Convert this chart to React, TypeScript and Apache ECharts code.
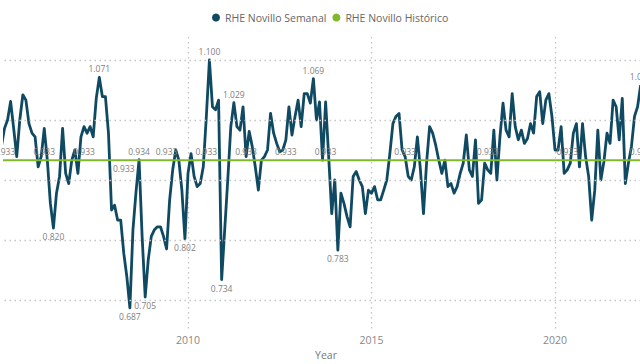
import React, { useEffect, useRef } from "react";
import * as echarts from "echarts";

// Monthly series starting Nov 2004
const startYear = 2004;
const startMonth = 11;

const semanal: number[] = [
  0.967, 0.956, 0.986, 1.000, 1.031, 0.986, 0.939, 1.000, 1.042, 1.033,
  0.994, 0.978, 0.972, 0.922, 0.939, 0.986, 0.933, 0.861, 0.820, 0.878,
  0.906, 0.986, 0.911, 0.894, 0.933, 0.950, 0.911, 0.972, 0.989, 0.978,
  0.989, 0.972, 1.036, 1.071, 1.039, 1.039, 0.978, 0.850, 0.858, 0.833,
  0.833, 0.778, 0.739, 0.687, 0.817, 0.880, 0.934, 0.806, 0.705, 0.767,
  0.806, 0.817, 0.822, 0.822, 0.806, 0.785, 0.867, 0.917, 0.950, 0.933,
  0.883, 0.802, 0.911, 0.944, 0.906, 0.889, 0.894, 0.922, 1.006, 1.100,
  1.022, 1.017, 1.033, 0.734, 0.817, 0.900, 0.989, 1.029, 0.989, 0.983,
  1.022, 0.939, 0.981, 0.956, 0.922, 0.883, 0.933, 0.939, 0.950, 1.011,
  0.978, 0.961, 0.947, 0.950, 0.967, 1.022, 0.975, 1.006, 1.033, 0.989,
  1.044, 1.044, 1.028, 1.069, 1.000, 1.030, 0.933, 1.030, 0.939, 0.844,
  0.900, 0.783, 0.878, 0.861, 0.839, 0.822, 0.906, 0.914, 0.900, 0.889,
  0.844, 0.883, 0.878, 0.889, 0.867, 0.867, 0.883, 0.900, 0.944, 0.994,
  1.006, 1.011, 0.950, 0.939, 0.906, 0.900, 0.922, 0.972, 0.917, 0.844,
  0.928, 0.989, 0.978, 0.958, 0.933, 0.911, 0.933, 0.889, 0.894, 0.878,
  0.889, 0.911, 0.928, 0.975, 0.917, 0.906, 0.967, 0.861, 0.867, 0.928,
  0.917, 0.911, 0.983, 0.900, 0.972, 1.028, 0.983, 0.972, 1.044, 0.989,
  0.967, 0.983, 0.961, 0.969, 0.994, 0.978, 1.039, 1.047, 0.994, 1.033,
  1.044, 1.006, 0.950, 0.950, 0.989, 0.911, 0.917, 0.928, 0.978, 0.994,
  0.922, 0.994, 0.939, 0.906, 0.833, 0.883, 0.983, 0.900, 0.931, 0.978,
  0.961, 1.033, 1.022, 0.967, 1.036, 0.894, 0.928, 0.956, 1.006, 1.022,
  1.058,
];

const historico = 0.933;

// indices of labelled points
const peakLabels = [33, 46, 69, 77, 103, 210];
const troughLabels = [18, 43, 48, 61, 73, 111];
const histLabelsTop = [2, 15, 28, 55, 68, 81, 94, 107, 133, 160, 186, 210];
const histLabelsBottom = [41];

const yGridValues = [0.7, 0.8, 0.9, 1.0, 1.1];
const yearTicks = [2010, 2015, 2020];

const dates: string[] = semanal.map((_, i) => {
  const m = startMonth - 1 + i;
  return `${startYear + Math.floor(m / 12)}-${String((m % 12) + 1).padStart(2, "0")}`;
});
const toYear = (d: string) => {
  const [y, m] = d.split("-").map(Number);
  return y + (m - 1) / 12;
};

const DARK = "#0f4a62";
const GREEN = "#80ba2c";
const FONT = "Open Sans";
const GRID_LINE = { color: "#c4c4c4", type: [1.5, 3.5], width: 1.3 };
const LABEL = {
  color: "#808080",
  fontSize: 8.5,
  fontFamily: FONT,
  distance: 4,
  formatter: (p: any) => Number(p.value[1]).toFixed(3),
};

export default function App() {
  const ref = useRef<HTMLDivElement>(null);
  useEffect(() => {
    if (!ref.current) return;
    const chart = echarts.init(ref.current, undefined, { renderer: "svg" });
    const semData = semanal.map((v, i) => {
      const x = toYear(dates[i]);
      if (peakLabels.includes(i))
        return { value: [x, v], label: { show: true, position: "top", ...LABEL } };
      if (troughLabels.includes(i))
        return { value: [x, v], label: { show: true, position: "bottom", ...LABEL } };
      return { value: [x, v] };
    });
    const histData = dates.map((d, i) => {
      const x = toYear(d);
      if (histLabelsTop.includes(i))
        return { value: [x, historico], label: { show: true, position: "top", ...LABEL } };
      if (histLabelsBottom.includes(i))
        return { value: [x, historico], label: { show: true, position: "bottom", ...LABEL } };
      return { value: [x, historico] };
    });
    chart.setOption({
      animation: false,
      legend: {
        data: ["RHE Novillo Semanal", "RHE Novillo Histórico"],
        left: 207,
        top: 7,
        icon: "circle",
        itemWidth: 8,
        itemHeight: 8,
        itemGap: 6,
        textStyle: { color: "#666", fontSize: 10.5, fontFamily: FONT },
      },
      grid: { left: 4.5, right: -98.5, top: 37, bottom: 34, outerBoundsMode: "none" },
      xAxis: {
        type: "value",
        min: 2005,
        max: 2025,
        interval: 5,
        name: "Year",
        nameLocation: "middle",
        nameGap: 18,
        nameTextStyle: { color: "#777", fontSize: 10.5, fontFamily: FONT, padding: [0, 91, 0, 0] },
        axisLine: { show: false },
        axisTick: { show: false },
        axisLabel: {
          color: "#888",
          fontSize: 10.5,
          fontFamily: FONT,
          margin: 4,
          formatter: (v: number) => (yearTicks.includes(v) ? String(v) : ""),
        },
        splitLine: {
          show: true,
          showMinLine: false,
          lineStyle: GRID_LINE,
        },
      },
      yAxis: {
        type: "value",
        min: 0.65,
        max: 1.1383,
        axisLabel: { show: false },
        axisLine: { show: false },
        axisTick: { show: false },
        splitLine: { show: false },
      },
      series: [
        {
          name: "_grid",
          type: "line",
          data: [],
          z: 1,
          silent: true,
          markLine: {
            silent: true,
            symbol: ["none", "none"],
            label: { show: false },
            lineStyle: GRID_LINE,
            emphasis: { disabled: true },
            data: yGridValues.map((v) => ({ yAxis: v })),
          },
        },
        {
          name: "RHE Novillo Semanal",
          type: "line",
          data: semData,
          color: DARK,
          symbol: "circle",
          symbolSize: 0,
          showSymbol: true,
          clip: false,
          z: 2,
          lineStyle: { color: DARK, width: 2.8, join: "round" },
          itemStyle: { color: DARK },
          label: { show: false },
        },
        {
          name: "RHE Novillo Histórico",
          type: "line",
          data: histData,
          color: GREEN,
          symbol: "circle",
          symbolSize: 0,
          showSymbol: true,
          clip: false,
          z: 3,
          lineStyle: { color: GREEN, width: 2 },
          itemStyle: { color: GREEN },
          label: { show: false },
        },
      ],
    });
    return () => chart.dispose();
  }, []);
  return (
    <div
      ref={ref}
      style={{ position: "fixed", left: 0, top: 0, width: 640, height: 364, background: "#fff" }}
    />
  );
}
